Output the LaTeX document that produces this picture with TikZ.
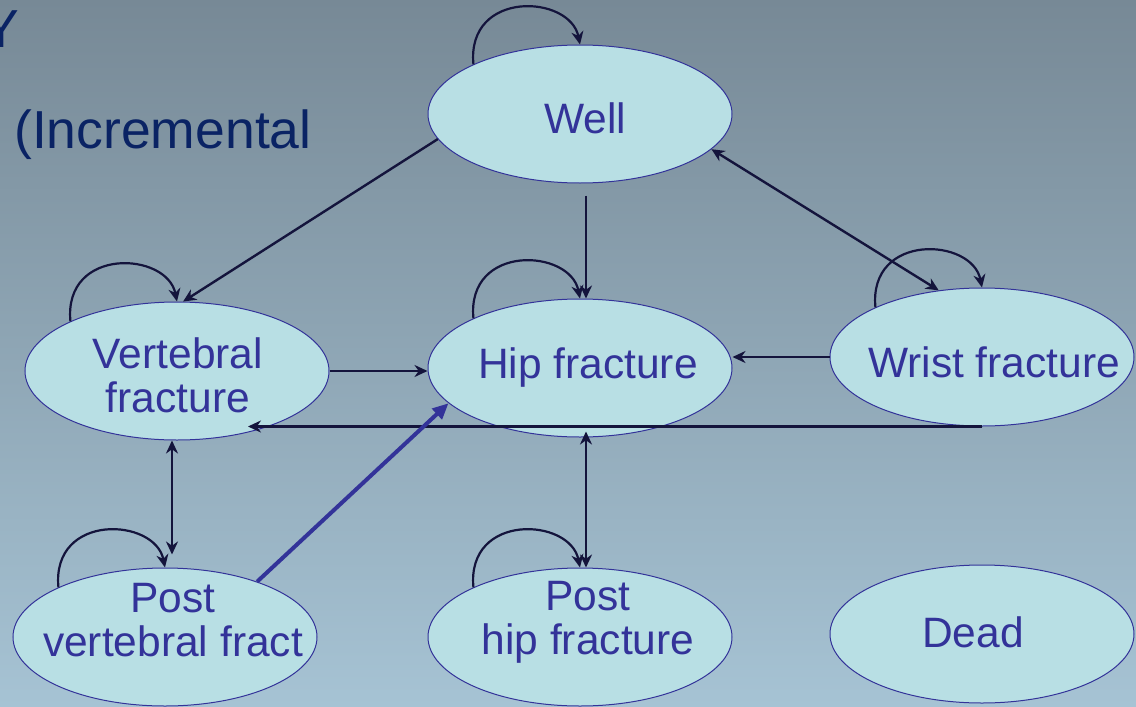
\documentclass[tikz,border=0pt]{standalone}
\usepackage{fontspec}
\setmainfont{Liberation Sans}
\usetikzlibrary{shapes.geometric,arrows.meta,calc}
\definecolor{bgtop}{RGB}{119,137,150}
\definecolor{bgbot}{RGB}{166,195,212}
\definecolor{efill}{RGB}{184,223,228}
\definecolor{eline}{RGB}{51,51,153}
\definecolor{arrowc}{RGB}{20,20,60}
\definecolor{titlec}{RGB}{10,35,100}
\begin{document}
\begin{tikzpicture}[x=1pt,y=-1pt,
  st/.style={ellipse,draw=eline,line width=1pt,fill=efill,minimum width=304pt,minimum height=138pt,inner sep=0pt},
  lbl/.style={text=eline,font=\fontsize{42.5}{44}\selectfont,align=center,inner sep=0pt},
  ttl/.style={text=titlec,font=\fontsize{53.5}{60}\selectfont,inner sep=0pt,anchor=base west},
  arr/.style={draw=arrowc,line width=2.4pt,-{Stealth[length=13pt,width=12pt]}},
  darr/.style={draw=arrowc,line width=2.4pt,{Stealth[length=13pt,width=12pt]}-{Stealth[length=13pt,width=12pt]}},
  barr/.style={draw=eline,line width=4pt,-{Triangle[length=16pt,width=14pt]}},
  selfloop/.style={arr,line width=2.2pt}]
\shade[top color=bgtop,bottom color=bgbot] (0,0) rectangle (1136,707);
\useasboundingbox (0,0) rectangle (1136,707);
% titles
\node[ttl] (ty) at (-17,47) {Y};
\node[ttl] (tinc) at (14,148) {(Incremental};
% states
\node[st] (well) at (580,114) {};
\node[st] (vert) at (177,371) {};
\node[st] (hip) at (580,368) {};
\node[st] (wrist) at (982,357) {};
\node[st] (pvert) at (165,637) {};
\node[st] (phip) at (580,637) {};
\node[st] (dead) at (982,634) {};
% self loops
\foreach \n in {well,vert,hip,wrist,pvert,phip}{
  \draw[selfloop] (\n.155) .. controls +(-7,-75) and +(-10,-50) .. (\n.north);
}
% transitions
\draw[arr] (well.190) -- (vert.85);
\draw[arr] ([xshift=6pt,yshift=-12pt]well.south) -- ([xshift=6pt]hip.north);
\draw[darr] (wrist.123) -- (well.-15);
\draw[arr] (vert.east) -- (vert.east -| hip.west);
\draw[arr] (wrist.west) -- (wrist.west -| hip.east);
\draw[arr] (wrist.south) -- ([xshift=71pt]vert.south |- wrist.south);
\draw[darr] ([xshift=6pt,yshift=6pt]hip.south) -- ([xshift=6pt]phip.north);
\draw[darr] ([xshift=-5pt]vert.south) -- ([xshift=7pt,yshift=13pt]pvert.north);
\draw[barr] (pvert.31) -- (hip.195);
% labels
\node[lbl] (wellT) at ([xshift=5pt,yshift=-4pt]well.center) {Well};
\node[lbl] (vertT) at ([xshift=1pt,yshift=-4pt]vert.center) {Vertebral\\fracture};
\node[lbl] (hipT) at ([xshift=8pt]hip.center) {Hip fracture};
\node[lbl] (wristT) at ([xshift=12pt,yshift=-5pt]wrist.center) {Wrist fracture};
\node[lbl] (pvertT) at ([xshift=8pt,yshift=17pt]pvert.center) {Post\\vertebral fract};
\node[lbl] (phipT) at ([xshift=8pt,yshift=15pt]phip.center) {Post\\hip fracture};
\node[lbl] (deadT) at ([xshift=-9pt,yshift=2pt]dead.center) {Dead};
\end{tikzpicture}
\end{document}
